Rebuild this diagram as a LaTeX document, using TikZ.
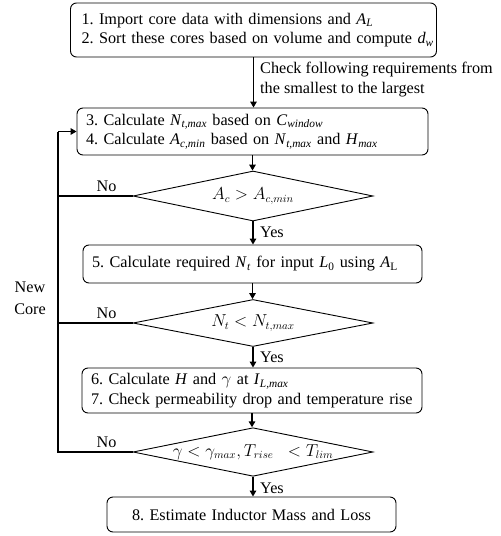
\documentclass[tikz,border=0pt]{standalone}
\usepackage{fontspec}
\setmainfont{Liberation Serif}
\usetikzlibrary{shapes.geometric,arrows.meta}
% italic variable with italic / upright subscript
\newcommand{\isub}[2]{\textit{#1}\textsubscript{\textit{#2}}}
\newcommand{\rsub}[2]{\textit{#1}\textsubscript{#2}}

\begin{document}
\frenchspacing
\begin{tikzpicture}[x=1pt,y=-1pt,
  every node/.style={font=\fontsize{16.2}{19.5}\selectfont},
  stepbox/.style={draw,line width=0.9pt,rounded corners=6pt,align=left,inner ysep=0pt},
  decision/.style={draw,diamond,line width=0.9pt,aspect=4.8,inner sep=0pt,minimum width=240pt},
  flow/.style={line width=1.5pt,-{Triangle[length=6pt,width=6.5pt]}},
  loopline/.style={line width=1.8pt},
  lbl/.style={inner sep=0pt}]
\useasboundingbox (0,0) rectangle (501,536);

% process steps
\node[stepbox, minimum height=54pt, text width=344pt, inner xsep=11pt] (s1) at (253.5,30)
  {\mbox{1. Import core data with dimensions and \isub{A}{L}}\\\mbox{2. Sort these cores based on volume and compute \isub{d}{w}}};
\node[stepbox, minimum height=47pt, text width=333pt, inner xsep=9pt] (s2) at (252.5,131.5)
  {\mbox{3. Calculate \isub{N}{t,max} based on \isub{C}{window}}\\\mbox{4. Calculate \isub{A}{c,min} based on \isub{N}{t,max} and \isub{H}{max}}};
\node[decision, minimum height=50pt] (d1) at (253,196) {$A_c > A_{c,min}$};
\node[stepbox, minimum height=38pt, text width=321pt, inner xsep=9pt] (s3) at (252.5,264)
  {\mbox{5. Calculate required \isub{N}{t} for input \rsub{L}{0} using \rsub{A}{L}}};
\node[decision, minimum height=47pt] (d2) at (253,323) {$N_t < N_{t,max}$};
\node[stepbox, minimum height=45pt, text width=322pt, inner xsep=9pt] (s4) at (252,390.5)
  {\mbox{6. Calculate \textit{H} and $\gamma$ at \isub{I}{L,max}}\\\mbox{7. Check permeability drop and temperature rise}};
\node[decision, minimum height=46pt] (d3) at (253,452) {$\gamma < \gamma_{max}, T_{rise}\;\; < T_{lim}$};
\node[stepbox, align=center, minimum height=35pt, text width=269pt, inner xsep=10pt] (s5) at (251.5,514.5)
  {8. Estimate Inductor Mass and Loss};

% main flow
\draw[flow] (s1.south) -- (s1.south |- s2.north);
\node[anchor=west, align=left, inner sep=0pt, font=\fontsize{16.2}{20}\selectfont] (chk) at (260,80)
  {Check following requirements from\\the smallest to the largest};
\draw[flow] (s2.south) -- (s2.south |- d1.north);
\draw[flow] (d1.south) -- (d1.south |- s3.north);
\draw[flow] (s3.south) -- (s3.south |- d2.north);
\draw[flow] (d2.south) -- (d2.south |- s4.north);
\draw[flow] (s4.south) -- (s4.south |- d3.north);
\draw[flow] (d3.south) -- (d3.south |- s5.north);

\path (d1.south) ++(7,11) node[lbl, anchor=west] (y1) {Yes};
\path (d2.south) ++(7,10) node[lbl, anchor=west] (y2) {Yes};
\path (d3.south) ++(7,12) node[lbl, anchor=west] (y3) {Yes};

% return path to the next core
\coordinate (lx) at (58,0);
\draw[loopline] (d1.west) -- (d1.west -| lx);
\draw[loopline] (d2.west) -- (d2.west -| lx);
\draw[loopline] (d3.west) -| (lx |- s2.west);
\draw[flow] (lx |- s2.west) -- (s2.west);

\path (d1.west) ++(-26,-4) node[lbl, anchor=south] (n1) {No};
\path (d2.west) ++(-26,-4) node[lbl, anchor=south] (n2) {No};
\path (d3.west) ++(-26,-4) node[lbl, anchor=south] (n3) {No};

\node[align=center, inner sep=0pt, font=\fontsize{16.2}{22}\selectfont] (nc) at (30,298) {New\\Core};
\end{tikzpicture}
\end{document}
